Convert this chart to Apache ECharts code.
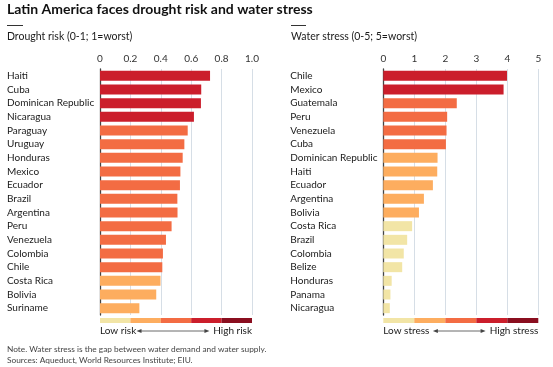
<!DOCTYPE html>
<html><head><meta charset="utf-8">
<script src="https://cdn.jsdelivr.net/npm/echarts@6/dist/echarts.min.js"></script>
<style>html,body{margin:0;padding:0;background:#fff}#c{width:553px;height:367px}</style>
</head><body><div id="c"></div>
<script>
const droughtCountries = ['Haiti','Cuba','Dominican Republic','Nicaragua','Paraguay','Uruguay','Honduras','Mexico','Ecuador','Brazil','Argentina','Peru','Venezuela','Colombia','Chile','Costa Rica','Bolivia','Suriname'];
const droughtValues = [0.724,0.666,0.664,0.618,0.577,0.555,0.544,0.529,0.526,0.509,0.51,0.471,0.434,0.414,0.41,0.398,0.37,0.259];
const droughtTicks = ['0','0.2','0.4','0.6','0.8','1.0'];
const stressCountries = ['Chile','Mexico','Guatemala','Peru','Venezuela','Cuba','Dominican Republic','Haiti','Ecuador','Argentina','Bolivia','Costa Rica','Brazil','Colombia','Belize','Honduras','Panama','Nicaragua'];
const stressValues = [3.99,3.88,2.37,2.06,2.04,2.02,1.75,1.74,1.6,1.31,1.15,0.93,0.77,0.66,0.61,0.27,0.23,0.21];
const stressTicks = ['0','1','2','3','4','5'];

const palette = ['#f2e5a6','#fdad5f','#f36c43','#cb1e2b','#8a0e1f'];
const FONT = 'Lato';
const chart = echarts.init(document.getElementById('c'), null, {renderer:'canvas'});

function grid(left, width){ return {left:left, width:width, top:69, height:246, containLabel:false}; }
function xAx(idx, max, interval, labels){
  return {gridIndex:idx, type:'value', position:'top', min:0, max:max, interval:interval,
    axisLine:{show:false}, axisTick:{show:false},
    splitLine:{show:true, lineStyle:{color:'#d6dee6', width:1}},
    axisLabel:{margin:5, fontFamily:FONT, fontSize:10, color:'#333',
      formatter:(v)=>labels[Math.round(v/interval)]}};
}
function yAx(idx, cats){
  return {gridIndex:idx, type:'category', data:cats, inverse:true,
    axisLine:{show:true, lineStyle:{color:'#444', width:1.3}}, axisTick:{show:false},
    axisLabel:{interval:0, align:'left', margin:93, fontFamily:FONT, fontSize:10, color:'#1a1a1a'}};
}
function bars(idx, vals, step){
  return {type:'bar', xAxisIndex:idx, yAxisIndex:idx, barWidth:10,
    data: vals.map(v=>({value:v, itemStyle:{color:palette[Math.min(4,Math.floor(v/step))]}})),
    silent:true, animation:false};
}

chart.setOption({
  animation:false,
  grid:[grid(100,152), grid(383.3,155)],
  xAxis:[xAx(0,1,0.2,droughtTicks), xAx(1,5,1,stressTicks)],
  yAxis:[yAx(0,droughtCountries), yAx(1,stressCountries)],
  series:[bars(0,droughtValues,0.2), bars(1,stressValues,1)]
});

// decorations
const g = [];
g.push({type:'text', left:7, top:2, style:{text:'Latin America faces drought risk and water stress', fontFamily:FONT, fontWeight:'bold', fontSize:14, fill:'#111'}});
g.push({type:'line', shape:{x1:7,y1:25.5,x2:23,y2:25.5}, style:{stroke:'#333', lineWidth:1}});
g.push({type:'line', shape:{x1:291,y1:25.5,x2:306,y2:25.5}, style:{stroke:'#333', lineWidth:1}});
g.push({type:'text', left:7, top:31, style:{text:'Drought risk (0-1; 1=worst)', fontFamily:FONT, fontSize:10.5, fill:'#1a1a1a'}});
g.push({type:'text', left:291, top:31, style:{text:'Water stress (0-5; 5=worst)', fontFamily:FONT, fontSize:10.5, fill:'#1a1a1a'}});

function legend(axisIdx, step, lowTxt, highTxt, arrowFrac){
  for(let i=0;i<5;i++){
    const a = chart.convertToPixel({xAxisIndex:axisIdx}, i*step);
    const b = chart.convertToPixel({xAxisIndex:axisIdx}, (i+1)*step);
    g.push({type:'rect', shape:{x:a, y:318, width:b-a, height:5}, style:{fill:palette[i]}});
  }
  const x0 = chart.convertToPixel({xAxisIndex:axisIdx}, 0);
  const x1 = chart.convertToPixel({xAxisIndex:axisIdx}, 5*step);
  g.push({type:'text', x:x0, y:331, style:{text:lowTxt, fontFamily:FONT, fontSize:10, fill:'#1a1a1a', textVerticalAlign:'middle', textAlign:'left'}});
  g.push({type:'text', x:x1, y:331, style:{text:highTxt, fontFamily:FONT, fontSize:10, fill:'#1a1a1a', textVerticalAlign:'middle', textAlign:'right'}});
  const ax0 = x0 + arrowFrac[0]*(x1-x0), ax1 = x0 + arrowFrac[1]*(x1-x0);
  g.push({type:'line', shape:{x1:ax0+3,y1:331,x2:ax1-3,y2:331}, style:{stroke:'#444', lineWidth:0.8}});
  g.push({type:'polygon', shape:{points:[[ax0,331],[ax0+5,329],[ax0+5,333]]}, style:{fill:'#444'}});
  g.push({type:'polygon', shape:{points:[[ax1,331],[ax1-5,329],[ax1-5,333]]}, style:{fill:'#444'}});
}
legend(0, 0.2, 'Low risk', 'High risk', [0.24, 0.72]);
legend(1, 1, 'Low stress', 'High stress', [0.32, 0.66]);

g.push({type:'text', left:7, top:345, style:{text:'Note. Water stress is the gap between water demand and water supply.', fontFamily:FONT, fontSize:8.3, fill:'#444'}});
g.push({type:'text', left:7, top:356, style:{text:'Sources: Aqueduct, World Resources Institute; EIU.', fontFamily:FONT, fontSize:8.3, fill:'#444'}});

chart.setOption({graphic:{elements:g}});
</script></body></html>
